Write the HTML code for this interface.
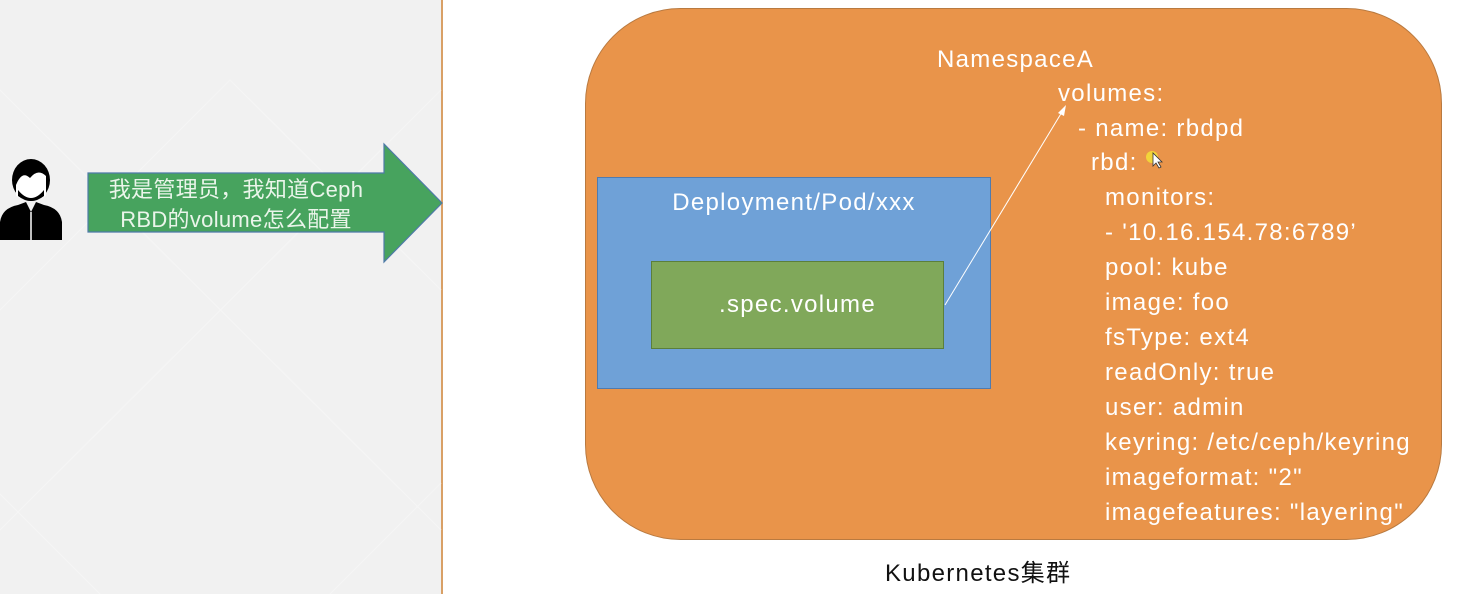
<!DOCTYPE html>
<html><head><meta charset="utf-8"><style>
body{margin:0;width:1466px;height:594px;background:#fff;position:relative;overflow:hidden;font-family:"Liberation Sans","Noto Sans CJK SC",sans-serif}
.t{position:absolute;color:#fff;font-size:24px;white-space:nowrap;line-height:1;letter-spacing:1.3px}
</style></head><body>
<div style="position:absolute;left:0;top:0;width:441px;height:594px;background:#f1f1f1"></div>
<div style="position:absolute;left:441px;top:0;width:2px;height:594px;background:#d9a066"></div>
<svg style="position:absolute;left:0;top:0" width="1466" height="594">
 <g stroke="#f5f5f5" stroke-width="1.2">
  <line x1="0" y1="310" x2="230" y2="80"/><line x1="230" y1="80" x2="441" y2="290"/>
  <line x1="0" y1="90" x2="441" y2="530"/><line x1="0" y1="530" x2="441" y2="90"/>
  <line x1="100" y1="594" x2="0" y2="494"/><line x1="330" y1="594" x2="441" y2="483"/>
 </g>
 <path d="M0,240 L0,222 Q2,208 18,205 L26,202 L31,212 L36,202 L44,205 Q60,208 62,222 L62,240 Z" fill="#000"/>
 <line x1="31" y1="212" x2="31" y2="240" stroke="#fff" stroke-width="1.5"/>
 <ellipse cx="31" cy="180" rx="19" ry="21" fill="#000"/>
 <path d="M16,185 Q22,170 30,178 Q38,168 46,176 L46,196 Q31,205 16,196 Z" fill="#fff"/>
 <path d="M18,190 Q31,206 44,190 L44,196 Q31,206 18,196Z" fill="#000"/>
 <polygon points="88,173 384,173 384,144 442,203 384,262 384,232 88,232" fill="#47a35e" stroke="#4e7aa8" stroke-width="1.2"/>
 <rect x="585.5" y="8.5" width="856" height="531" rx="95" fill="#e9944a" stroke="#b97a40" stroke-width="1"/>
 <rect x="597.5" y="177.5" width="393" height="211" fill="#6fa1d7" stroke="#4f7bb0" stroke-width="1"/>
 <rect x="651.5" y="261.5" width="292" height="87" fill="#80a85a" stroke="#5b7f3b" stroke-width="1"/>
 <line x1="945" y1="305" x2="1062" y2="112" stroke="#fff" stroke-width="1"/>
 <polygon points="1066,105 1058,113 1064,116" fill="#fff"/>
 <circle cx="1152" cy="157" r="6" fill="#f2d43a"/>
 <path d="M1153,153 l0,13 l3,-3 l3,5 l2,-1 l-3,-5 l4,0 z" fill="#fff" stroke="#333" stroke-width="0.8"/>
</svg>
<div class="t" style="left:88px;top:175px;width:296px;text-align:center;font-size:22px;line-height:30px;color:#eaf5ea;letter-spacing:0.3px">我是管理员，我知道Ceph<br>RBD的volume怎么配置</div>
<div class="t" style="left:937px;top:48px">NamespaceA</div>
<div class="t" style="left:1058px;top:82px">volumes:</div>
<div class="t" style="left:1078px;top:117px">- name: rbdpd</div>
<div class="t" style="left:1091px;top:151px">rbd:</div>
<div class="t" style="left:1105px;top:186px">monitors:</div>
<div class="t" style="left:1105px;top:221px">- '10.16.154.78:6789’</div>
<div class="t" style="left:1105px;top:256px">pool: kube</div>
<div class="t" style="left:1105px;top:291px">image: foo</div>
<div class="t" style="left:1105px;top:326px">fsType: ext4</div>
<div class="t" style="left:1105px;top:361px">readOnly: true</div>
<div class="t" style="left:1105px;top:396px">user: admin</div>
<div class="t" style="left:1105px;top:431px">keyring: /etc/ceph/keyring</div>
<div class="t" style="left:1105px;top:466px">imageformat: "2"</div>
<div class="t" style="left:1105px;top:501px">imagefeatures: "layering"</div>
<div class="t" style="left:597px;top:191px;width:394px;text-align:center">Deployment/Pod/xxx</div>
<div class="t" style="left:651px;top:293px;width:293px;text-align:center">.spec.volume</div>
<div class="t" style="left:885px;top:562px;color:#111">Kubernetes集群</div>
</body></html>
